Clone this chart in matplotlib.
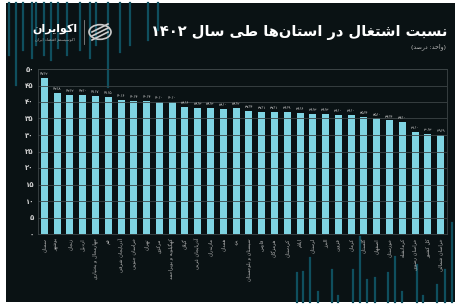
import re
import matplotlib
matplotlib.use("Agg")
import matplotlib.pyplot as plt
from matplotlib.patches import Rectangle, Circle
from matplotlib.lines import Line2D

# داده‌ها
provinces = [
    "سمنان", "بوشهر", "زنجان", "اردبیل", "چهارمحال و بختیاری", "قم",
    "آذربایجان شرقی", "خراسان جنوبی", "تهران", "مرکزی", "کهگیلویه و بویراحمد",
    "گیلان", "آذربایجان غربی", "مازندران", "همدان", "یزد", "سیستان و بلوچستان",
    "فارس", "هرمزگان", "کردستان", "ایلام", "لرستان", "البرز", "قزوین", "کرمان",
    "گلستان", "اصفهان", "خوزستان", "کرمانشاه", "خراسان رضوی", "کل کشور",
    "خراسان شمالی",
]
values = [
    47.2, 42.8, 42.2, 42.0, 41.7, 41.5, 40.6, 40.4, 40.4, 40.0, 40.0,
    38.6, 38.3, 38.3, 38.0, 38.2, 37.4, 37.1, 37.1, 36.9, 36.6, 36.3,
    36.3, 36.0, 36.0, 35.4, 35.0, 34.4, 34.0, 31.0, 30.3, 29.9,
]
yticks = [0, 5, 10, 15, 20, 25, 30, 35, 40, 45, 50]
title = "نسبت اشتغال در استان‌ها طی سال ۱۴۰۲"
subtitle = "(واحد: درصد)"
brand = "اکوایران"
brand_sub = "اکوسیستم اقتصاد ایران"

W, H = 456, 304
BG = "#0a1214"
BAR = "#7fd4e2"
DECOR = "#0f4f5e"

# شکل‌دهی حروف عربی/فارسی (matplotlib خودش انجام نمی‌دهد)
FORMS = {
    "ا": ("\uFE8D", "\uFE8E", None, None), "آ": ("\uFE81", "\uFE82", None, None),
    "ب": ("\uFE8F", "\uFE90", "\uFE91", "\uFE92"), "پ": ("\uFB56", "\uFB57", "\uFB58", "\uFB59"),
    "ت": ("\uFE95", "\uFE96", "\uFE97", "\uFE98"), "ث": ("\uFE99", "\uFE9A", "\uFE9B", "\uFE9C"),
    "ج": ("\uFE9D", "\uFE9E", "\uFE9F", "\uFEA0"), "چ": ("\uFB7A", "\uFB7B", "\uFB7C", "\uFB7D"),
    "ح": ("\uFEA1", "\uFEA2", "\uFEA3", "\uFEA4"), "خ": ("\uFEA5", "\uFEA6", "\uFEA7", "\uFEA8"),
    "د": ("\uFEA9", "\uFEAA", None, None), "ذ": ("\uFEAB", "\uFEAC", None, None),
    "ر": ("\uFEAD", "\uFEAE", None, None), "ز": ("\uFEAF", "\uFEB0", None, None),
    "ژ": ("\uFB8A", "\uFB8B", None, None),
    "س": ("\uFEB1", "\uFEB2", "\uFEB3", "\uFEB4"), "ش": ("\uFEB5", "\uFEB6", "\uFEB7", "\uFEB8"),
    "ص": ("\uFEB9", "\uFEBA", "\uFEBB", "\uFEBC"), "ض": ("\uFEBD", "\uFEBE", "\uFEBF", "\uFEC0"),
    "ط": ("\uFEC1", "\uFEC2", "\uFEC3", "\uFEC4"), "ظ": ("\uFEC5", "\uFEC6", "\uFEC7", "\uFEC8"),
    "ع": ("\uFEC9", "\uFECA", "\uFECB", "\uFECC"), "غ": ("\uFECD", "\uFECE", "\uFECF", "\uFED0"),
    "ف": ("\uFED1", "\uFED2", "\uFED3", "\uFED4"), "ق": ("\uFED5", "\uFED6", "\uFED7", "\uFED8"),
    "ک": ("\uFB8E", "\uFB8F", "\uFB90", "\uFB91"), "گ": ("\uFB92", "\uFB93", "\uFB94", "\uFB95"),
    "ل": ("\uFEDD", "\uFEDE", "\uFEDF", "\uFEE0"), "م": ("\uFEE1", "\uFEE2", "\uFEE3", "\uFEE4"),
    "ن": ("\uFEE5", "\uFEE6", "\uFEE7", "\uFEE8"), "و": ("\uFEED", "\uFEEE", None, None),
    "ه": ("\uFEE9", "\uFEEA", "\uFEEB", "\uFEEC"), "ی": ("\uFBFC", "\uFBFD", "\uFBFE", "\uFBFF"),
}
LAM_ALEF = {"ا": ("\uFEFB", "\uFEFC"), "آ": ("\uFEF5", "\uFEF6")}


def dual(c):
    return c in FORMS and FORMS[c][2] is not None


def shape(s):
    out = []
    i = 0
    while i < len(s):
        c = s[i]
        prev_join = i > 0 and dual(s[i - 1])
        if c == "ل" and i + 1 < len(s) and s[i + 1] in LAM_ALEF:
            out.append(LAM_ALEF[s[i + 1]][1 if prev_join else 0])
            i += 2
            continue
        if c in FORMS:
            f = FORMS[c]
            next_join = dual(c) and i + 1 < len(s) and s[i + 1] in FORMS
            if prev_join and next_join:
                out.append(f[3])
            elif prev_join:
                out.append(f[1])
            elif next_join:
                out.append(f[2])
            else:
                out.append(f[0])
        elif c != "\u200c":
            out.append(c)
        i += 1
    return "".join(out)


def fa(s):
    # شکل‌دهی + ترتیب دیداری راست به چپ
    s = shape(s)
    mirror = str.maketrans("()", ")(")
    parts = re.split(r"([0-9۰-۹][0-9۰-۹./]*)", s)
    res = []
    for p in reversed(parts):
        if p and re.match(r"[0-9۰-۹]", p):
            res.append(p)
        else:
            res.append(p[::-1].translate(mirror))
    return "".join(res)


FA_DIGITS = str.maketrans("0123456789", "۰۱۲۳۴۵۶۷۸۹")


def fa_num(v):
    return f"{v:.1f}".replace(".", "/").translate(FA_DIGITS)


def px(x, y):
    return x / W, 1 - y / H


plt.rcParams["font.family"] = ["DejaVu Sans"]

fig = plt.figure(figsize=(W / 100, H / 100), dpi=100, facecolor="white")
fig.patches.append(Rectangle(px(6, 302), (W - 6) / W, 299 / H, transform=fig.transFigure,
                             facecolor=BG, edgecolor="none", zorder=-2))

# خطوط تزئینی
top_lines = [(9, 55), (16, 85), (23, 50), (32, 58), (36, 45), (44, 55), (51, 60), (58, 48),
             (67, 55), (80, 50), (90, 58), (96, 45), (108, 87), (120, 52), (130, 45),
             (148, 40), (158, 30)]
for x, y1 in top_lines:
    fig.add_artist(Line2D([x / W, x / W], [1 - 3 / H, 1 - y1 / H], color=DECOR, lw=1.6, zorder=-1))
bottom_lines = [(297, 273), (303, 272), (310, 258), (318, 292), (332, 270), (338, 296),
                (353, 270), (360, 237), (367, 280), (375, 278), (388, 273), (395, 257),
                (402, 292), (417, 265), (423, 296), (437, 285), (445, 270), (452, 223)]
for x, y1 in bottom_lines:
    fig.add_artist(Line2D([x / W, x / W], [1 - 302 / H, 1 - y1 / H], color=DECOR, lw=1.6, zorder=-1))

# عنوان
fig.text(*px(447, 33), fa(title), color="white", fontsize=10.5, fontweight="bold",
         ha="right", va="center")
fig.text(*px(446, 47), fa(subtitle), color="#bbbbbb", fontsize=4.5, ha="right", va="center")

# لوگو
fig.text(*px(55, 29), fa(brand), color="white", fontsize=8, fontweight="bold", ha="center", va="center")
fig.text(*px(55, 40), fa(brand_sub), color="#aaaaaa", fontsize=3, ha="center", va="center")
fig.add_artist(Line2D([84 / W, 84 / W], [1 - 20 / H, 1 - 44 / H], color="#888888", lw=0.6))
fig.add_artist(Circle(px(100, 32), 11 / W, transform=fig.transFigure, facecolor="none",
                      edgecolor="#cccccc", lw=1.2))
for dy in (-4, 0, 4):
    fig.add_artist(Line2D([92 / W, 108 / W], [1 - (36 + dy) / H, 1 - (28 + dy) / H],
                          color="#cccccc", lw=1.2))

# نمودار
ax = fig.add_axes([38 / W, 1 - 234 / H, (447 - 38) / W, (234 - 69) / H])
ax.set_zorder(1)
ax.set_facecolor("none")
x = range(len(values))
ax.bar(x, values, width=0.55, color=BAR, zorder=2)
for i, v in enumerate(values):
    ax.text(i, v + 0.6, fa_num(v), color="#cccccc", fontsize=3.2, ha="center", va="bottom")

ax.set_xlim(-0.5, len(values) - 0.5)
ax.set_ylim(0, 50)
ax.set_yticks(yticks)
ax.set_yticklabels([str(t).translate(FA_DIGITS) for t in yticks],
                   color="#cfcfcf", fontsize=5, fontweight="bold")
ax.set_xticks(list(x))
ax.set_xticklabels([fa(p) for p in provinces], rotation=90, color="#b5b5b5", fontsize=3.6)
ax.tick_params(length=0, pad=3)
ax.set_axisbelow(False)
ax.yaxis.grid(True, color="#3d4547", lw=0.6)
for sp in ax.spines.values():
    sp.set_color("#3d4547")
    sp.set_linewidth(0.6)

fig.savefig("out.png", dpi=100, facecolor=fig.get_facecolor())
